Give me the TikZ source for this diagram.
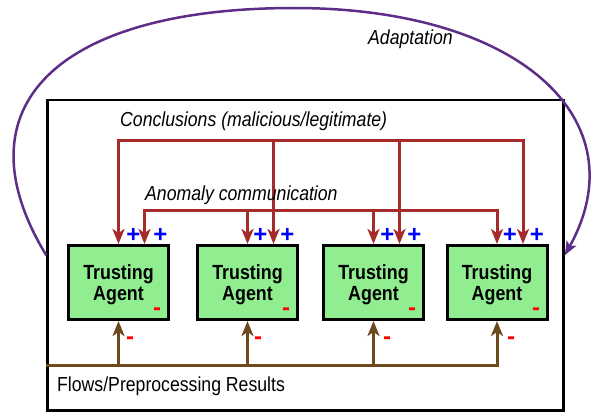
\documentclass[tikz,border=0pt]{standalone}
\usepackage{fontspec}
\setmainfont{Liberation Sans}
\newfontfamily\narrowsf[FakeStretch=0.87]{Liberation Sans}
\usetikzlibrary{arrows.meta}
\definecolor{linkred}{RGB}{165,42,42}
\definecolor{flowbrown}{RGB}{108,74,28}
\definecolor{adaptpurple}{RGB}{94,45,135}
\definecolor{agentgreen}{RGB}{144,238,144}
\begin{document}
\begin{tikzpicture}[x=1pt,y=-1pt,
  agentbox/.style={draw=black, line width=3pt, fill=agentgreen, minimum width=100pt,
    minimum height=74pt, inner sep=0pt, align=center,
    font=\narrowsf\fontsize{20.5}{20.5}\selectfont\bfseries},
  lbl/.style={inner sep=0pt, font=\narrowsf\fontsize{20.3}{22}\selectfont},
  redline/.style={draw=linkred, line width=3pt,
    >={Stealth[length=15pt,width=12pt,inset=4pt]}},
  brownline/.style={draw=flowbrown, line width=3pt,
    >={Stealth[length=15pt,width=12pt,inset=4pt]}},
  purpleline/.style={draw=adaptpurple, line width=2.5pt,
    >={Stealth[length=14pt,width=11pt,inset=3.5pt]}},
  plussign/.style={inner sep=0pt, anchor=base, text=blue,
    font=\fontsize{24}{24}\selectfont\bfseries},
  minussign/.style={inner sep=0pt, anchor=base, text=red,
    font=\fontsize{24}{24}\selectfont\bfseries}
]
\useasboundingbox (0,0) rectangle (592,412);

% outer frame
\node[draw=black, line width=2.5pt, minimum width=516pt, minimum height=310.5pt,
  inner sep=0pt] (outer) at (305.5,255.25) {};

% agents
\node[agentbox] (a1) at (118.5,282.5) {\rule{0pt}{19pt}Trusting\\Agent};
\node[agentbox] (a2) at (247.5,282.5) {\rule{0pt}{19pt}Trusting\\Agent};
\node[agentbox] (a3) at (373.5,282.5) {\rule{0pt}{19pt}Trusting\\Agent};
\node[agentbox] (a4) at (497,282.5) {\rule{0pt}{19pt}Trusting\\Agent};

% bus levels
\coordinate (cy) at (0,140);
\coordinate (ay) at (0,210);
\coordinate (fy) at (0,365);

% conclusions
\draw[redline,<->] (a1.north) -- (a1.north |- cy) -| ([xshift=26pt]a4.north);
\draw[redline,->] ([xshift=26pt]a2.north |- cy) -- ([xshift=26pt]a2.north);
\draw[redline,->] ([xshift=26pt]a3.north |- cy) -- ([xshift=26pt]a3.north);

% anomaly communication
\draw[redline,<->] ([xshift=26pt]a1.north) -- ([xshift=26pt]a1.north |- ay) -| (a4.north);
\draw[redline,->] (a2.north |- ay) -- (a2.north);
\draw[redline,->] (a3.north |- ay) -- (a3.north);

% flows
\draw[brownline,->] (outer.west |- fy) -| (a4.south);
\draw[brownline,->] (a1.south |- fy) -- (a1.south);
\draw[brownline,->] (a2.south |- fy) -- (a2.south);
\draw[brownline,->] (a3.south |- fy) -- (a3.south);

% adaptation loop
\draw[purpleline,->] (outer.west) .. controls (-45,105) and (60,8) .. (294,8)
  .. controls (520,8) and (640,120) .. (outer.east);

% labels
\node[lbl, anchor=base west] (adapt) at (368,45) {\itshape Adaptation};
\node[lbl, anchor=base west] (concl) at (120,126) {\itshape Conclusions (malicious/legitimate)};
\node[lbl, anchor=base west] (anom) at (145,200) {\itshape Anomaly communication};
\node[lbl, anchor=base west] (flows) at (57,391) {Flows/Preprocessing Results};

% plus signs
\foreach \n/\dx in {a1/15, a2/13, a3/14, a4/13} {
  \node[plussign] at ([shift={(\dx,-2)}]\n.north) {+};
  \node[plussign] at ([shift={(\dx+27,-2)}]\n.north) {+};
}
% minus signs
\foreach \n/\dx/\ex in {a1/38.5/11.5, a2/38.5/10.5, a3/38.5/13.5, a4/39/14} {
  \node[minussign] at ([shift={(\dx,33)}]\n.center) {-};
  \node[minussign] at ([shift={(\ex,23)}]\n.south) {-};
}
\end{tikzpicture}
\end{document}
